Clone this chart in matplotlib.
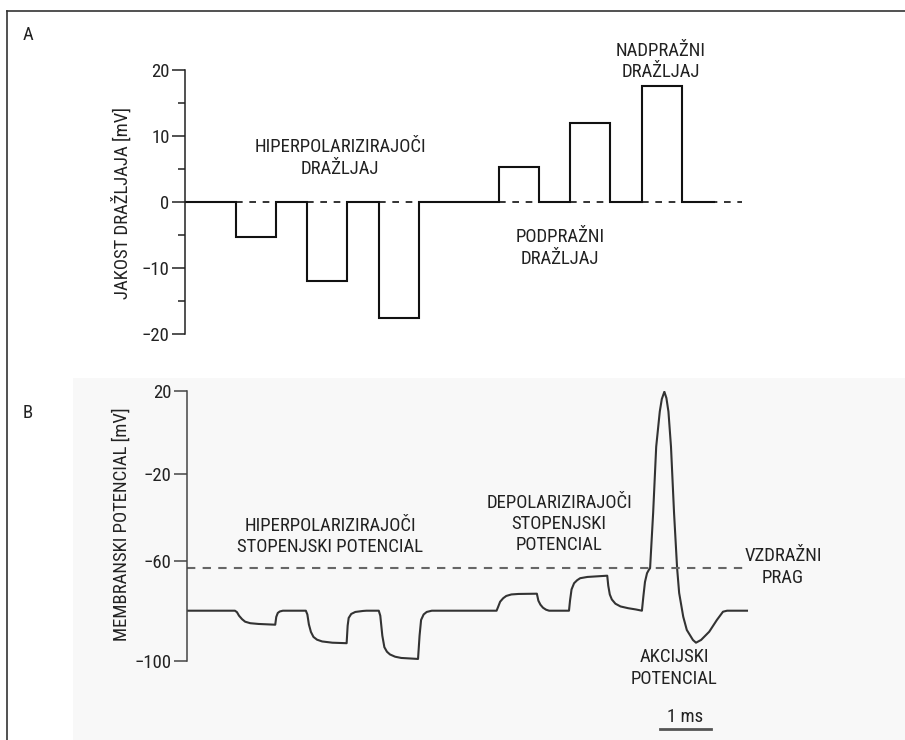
import numpy as np
import matplotlib
matplotlib.use('Agg')
import matplotlib.pyplot as plt
from matplotlib import font_manager
from matplotlib.lines import Line2D
from matplotlib.patches import Rectangle

# --- data -------------------------------------------------------------
# panel A: stimulus pulses (start / end in ms, amplitude in mV)
pulse_start = [1.00, 2.39, 3.80, 6.16, 7.55, 8.96]
pulse_end = [1.78, 3.18, 4.59, 6.94, 8.33, 9.75]
pulse_amp = [-5.3, -12.0, -17.5, 5.3, 12.0, 17.5]
stim_line_end = 10.37
stim_dash_end = 10.92

# panel B: membrane potential trace (ms, mV)
vm_t = [0.00, 0.94, 0.98, 1.02, 1.08, 1.14, 1.24, 1.40, 1.73, 1.75, 1.78, 1.82, 1.88,
        2.33, 2.36, 2.39, 2.43, 2.48, 2.55, 2.65, 2.85, 3.13, 3.15, 3.17, 3.22, 3.30,
        3.45, 3.52, 3.76, 3.79, 3.83, 3.87, 3.92, 3.98, 4.08, 4.20, 4.53, 4.56, 4.59,
        4.64, 4.70, 4.80, 6.07, 6.10, 6.14, 6.20, 6.26, 6.36, 6.50, 6.86, 6.89, 6.93,
        6.98, 7.04, 7.10, 7.49, 7.51, 7.54, 7.59, 7.65, 7.71, 7.85, 8.24, 8.26, 8.29,
        8.33, 8.40, 8.50, 8.65, 8.80, 8.92, 8.95, 8.98, 9.02, 9.06, 9.08, 9.14, 9.20,
        9.27, 9.31, 9.36, 9.40, 9.44, 9.49, 9.55, 9.61, 9.65, 9.73, 9.80, 9.92, 9.98,
        10.08, 10.24, 10.39, 10.51, 10.59, 10.98]
vm_mv = [-80.0, -80.0, -80.6, -82.0, -83.4, -84.4, -85.0, -85.3, -85.6, -82.5, -80.9, -80.3, -80.0,
         -80.0, -81.5, -85.5, -88.5, -90.5, -91.6, -92.3, -92.8, -93.0, -86.0, -82.9, -81.3, -80.5,
         -80.1, -80.0, -80.0, -82.0, -90.0, -94.6, -96.4, -97.5, -98.4, -98.9, -99.3, -90.0, -83.7,
         -81.5, -80.5, -80.0, -80.0, -78.5, -76.4, -75.0, -74.1, -73.5, -73.3, -73.2, -76.0, -77.6,
         -78.8, -79.6, -80.0, -80.0, -76.0, -71.5, -69.0, -67.8, -67.0, -66.5, -66.0, -70.0, -73.5,
         -75.5, -77.2, -78.3, -79.0, -79.5, -80.0, -74.0, -68.5, -65.0, -63.5, -63.0, -37.9, -6.8,
         10.0, 16.0, 19.5, 16.5, 10.0, -6.8, -37.9, -63.0, -72.9, -82.4, -87.7, -91.7, -92.8,
         -91.7, -88.4, -83.7, -80.4, -80.0, -80.0]
threshold_mv = -62.8
threshold_end = 10.90

a_ticks = [-20, -10, 0, 10, 20]
a_minor = [-15, -5, 5, 15]
b_ticks = [-100, -60, -20, 20]
b_tick_pos = [0, 100, 186.4, 270]  # uneven spacing of the drawn axis

# --- fonts ------------------------------------------------------------
# prefer a narrow face, like the condensed font of the original figure
entries = font_manager.fontManager.ttflist
names = {f.name for f in entries}
stretch = 'normal'
if 'Liberation Sans Narrow' in names:
    main_font = 'Liberation Sans Narrow'
elif 'Roboto Condensed' in names:
    main_font = 'Roboto Condensed'
elif any(f.name == 'DejaVu Sans' and f.stretch in ('condensed', 'semi-condensed')
         and f.weight in (400, 'normal') and f.style == 'normal' for f in entries):
    main_font = 'DejaVu Sans'
    stretch = 'condensed'
else:
    main_font = 'Roboto'
plt.rcParams['font.family'] = [main_font, 'DejaVu Sans']
plt.rcParams['font.stretch'] = stretch
FS = 13.5
TXT = '#222222'

W, H = 905, 740
fig = plt.figure(figsize=(W / 100, H / 100), dpi=100)
fig.patch.set_facecolor('white')


def fig_text(px, py, s, **kw):
    fig.text(px / W, 1 - py / H, s, ha='center', va='center', fontsize=FS,
             color=TXT, linespacing=1.22, **kw)


# light background of panel B and frame lines
fig.add_artist(Rectangle((73 / W, 0), 1, 1 - 378 / H, transform=fig.transFigure,
                         facecolor='#f8f8f8', edgecolor='none', zorder=0))
fig.add_artist(Line2D([7 / W, 7 / W], [0, 1 - 11 / H], transform=fig.transFigure,
                      color='#333333', lw=1.2))
fig.add_artist(Line2D([7 / W, 1], [1 - 11 / H, 1 - 11 / H], transform=fig.transFigure,
                      color='#333333', lw=1.2))

# --- panel A ----------------------------------------------------------
axA = fig.add_axes([185 / W, 1 - 334 / H, 720 / W, 264 / H])
axA.set_facecolor('none')
xs, ys = [0], [0]
for s, e, a in zip(pulse_start, pulse_end, pulse_amp):
    xs += [s, s, e, e]
    ys += [0, a, a, 0]
xs.append(stim_line_end)
ys.append(0)
axA.plot(xs, ys, color='#111111', lw=1.5, solid_joinstyle='miter')
for s, e in zip(pulse_start, pulse_end):
    axA.plot([s, e], [0, 0], color='#111111', lw=1.2, ls=(0, (4, 4)))
axA.plot([stim_line_end, stim_dash_end], [0, 0], color='#111111', lw=1.2, ls=(2, (4, 4)))
axA.set_xlim(0, 720 / 51)
axA.set_ylim(-20, 20)
axA.set_yticks(a_ticks)
axA.set_yticklabels(['\u221220', '\u221210', '0', '10', '20'])
axA.set_yticks(a_minor, minor=True)
axA.tick_params(axis='y', which='major', length=9.5, width=1.1, color='#222222',
                labelsize=FS, labelcolor=TXT, pad=1.5)
axA.tick_params(axis='y', which='minor', length=5, width=1.1, color='#222222')
axA.set_xticks([])
for sp in ['top', 'right', 'bottom']:
    axA.spines[sp].set_visible(False)
axA.spines['left'].set_linewidth(1.1)
axA.spines['left'].set_color('#222222')

# --- panel B ----------------------------------------------------------
ext_mv = [-1000] + b_ticks + [1000]
ext_pos = [-2250] + b_tick_pos + [2318]


def fwd(v):
    return np.interp(v, ext_mv, ext_pos)


def inv(p):
    return np.interp(p, ext_pos, ext_mv)


axB = fig.add_axes([187 / W, 1 - 660.7 / H, 718 / W, 270 / H])
axB.set_facecolor('none')
axB.set_yscale('function', functions=(fwd, inv))
axB.plot(vm_t, vm_mv, color='#333333', lw=1.5)
axB.plot([0, threshold_end], [threshold_mv, threshold_mv], color='#666666', lw=1.5,
         ls=(0, (4, 3.5)))
axB.set_xlim(0, 718 / 51)
axB.set_ylim(-100, 20)
axB.set_yticks(b_ticks)
axB.set_yticklabels(['\u2212100', '\u221260', '\u221220', '20'])
axB.minorticks_off()
axB.tick_params(axis='y', which='major', length=9.5, width=1.1, color='#444444',
                labelsize=FS, labelcolor=TXT, pad=1.5)
axB.set_xticks([])
for sp in ['top', 'right', 'bottom']:
    axB.spines[sp].set_visible(False)
axB.spines['left'].set_linewidth(1.1)
axB.spines['left'].set_color('#444444')

# 1 ms scale bar
axB.plot([9.27, 10.27], [-127.3, -127.3], color='#555555', lw=2, clip_on=False)

# --- texts ------------------------------------------------------------
fig_text(28, 35, 'A')
fig_text(28, 413, 'B')
fig_text(122, 203, 'JAKOST DRAŽLJAJA [mV]', rotation=90)
fig_text(122, 524, 'MEMBRANSKI POTENCIAL [mV]', rotation=90)
fig_text(340, 158, 'HIPERPOLARIZIRAJOČI\nDRAŽLJAJ')
fig_text(661, 61.5, 'NADPRAŽNI\nDRAŽLJAJ')
fig_text(560, 248, 'PODPRAŽNI\nDRAŽLJAJ')
fig_text(330, 536.7, 'HIPERPOLARIZIRAJOČI\nSTOPENJSKI POTENCIAL')
fig_text(559, 524, 'DEPOLARIZIRAJOČI\nSTOPENJSKI\nPOTENCIAL')
fig_text(783, 567, 'VZDRAŽNI\nPRAG')
fig_text(674, 668, 'AKCIJSKI\nPOTENCIAL')
fig_text(685, 717, '1 ms')

fig.savefig('out.png', dpi=100)
